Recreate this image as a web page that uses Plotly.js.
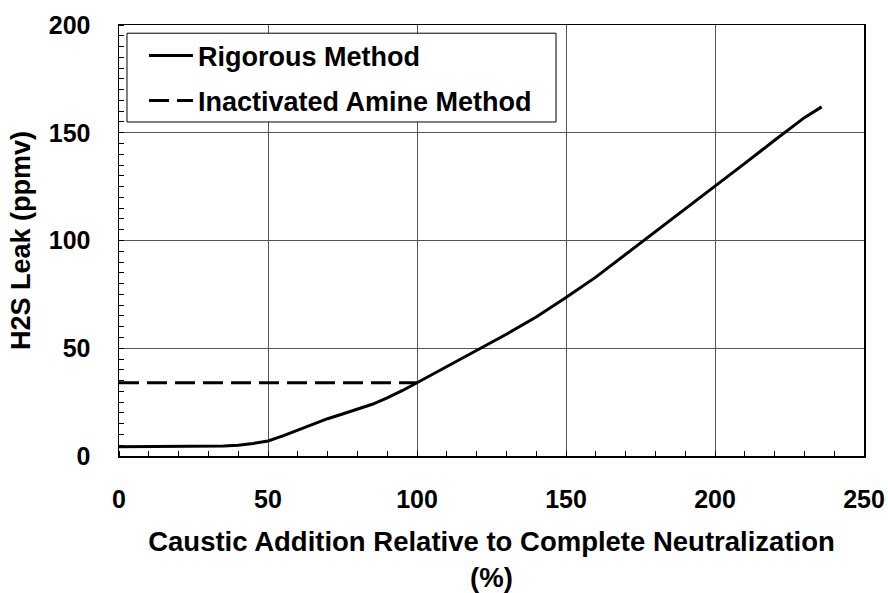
<!DOCTYPE html>
<html>
<head>
<meta charset="utf-8">
<script src="https://cdn.plot.ly/plotly-3.0.1.min.js"></script>
<style>html,body{margin:0;padding:0;background:#fff;}#chart{width:888px;height:593px;}</style>
</head>
<body>
<div id="chart"></div>
<script>
// Rigorous method curve
const rigX = [0, 10, 20, 27, 35, 40, 45, 50, 55, 60, 65, 70, 75, 80, 85, 90, 95, 100, 105, 110, 115, 120, 130, 140, 150, 160, 170, 180, 190, 200, 210, 220, 230, 235.8];
const rigY = [4.3, 4.3, 4.3, 4.3, 4.6, 5.0, 5.8, 7.0, 9.3, 12.0, 14.8, 17.3, 19.5, 21.6, 24.0, 27.0, 30.3, 34.0, 37.8, 41.6, 45.4, 49.2, 56.5, 64.5, 73.5, 83.0, 93.5, 104.0, 114.5, 125.0, 135.8, 146.5, 157.0, 162.0];
// Inactivated amine method
const inaX = [0, 100];
const inaY = [34, 34];
const xTickVals = [0, 50, 100, 150, 200, 250];
const yTickVals = [0, 50, 100, 150, 200];

const FONT = 'Liberation Sans, Arial, sans-serif';
const bold = (s) => ({family: FONT, size: s, color: '#000', weight: 'bold'});
const traces = [
  {x: rigX, y: rigY, mode: 'lines', name: 'Rigorous Method', legendgroup: 'a',
   line: {color: '#000', width: 3}},
  {x: inaX, y: inaY, mode: 'lines', name: 'Inactivated Amine Method', legendgroup: 'b',
   line: {color: '#000', width: 3, dash: '20px,8px'}}
];
const layout = {
  width: 888, height: 593,
  margin: {l: 119, r: 24, t: 25, b: 137},
  paper_bgcolor: '#fff', plot_bgcolor: '#fff',
  font: bold(25),
  showlegend: true,
  legend: {x: 0.0335, y: 0.985, xanchor: 'left', yanchor: 'top',
    borderwidth: 0, bgcolor: 'rgba(0,0,0,0)',
    font: bold(27), tracegroupgap: 7, itemwidth: 44},
  shapes: [
    {type: 'rect', xref: 'paper', yref: 'paper', x0: 0.0107, x1: 0.5866, y0: 0.775, y1: 0.981,
     line: {color: '#000', width: 1}, fillcolor: '#fff', layer: 'above'}
  ],
  xaxis: {range: [0, 250], tickvals: xTickVals, ticks: '', showgrid: true,
    gridcolor: '#555', gridwidth: 1, zeroline: false,
    showline: true, linecolor: '#000', linewidth: 1.5, mirror: true,
    ticklabelstandoff: 20,
    tickfont: bold(25),
    minor: {ticks: 'inside', dtick: 10, ticklen: 5, tickcolor: '#000', tickwidth: 1, showgrid: false},
    title: {text: 'Caustic Addition Relative to Complete Neutralization<br>(%)',
      font: bold(27.5), standoff: 24}},
  yaxis: {range: [0, 200], tickvals: yTickVals, ticks: '', showgrid: true,
    gridcolor: '#555', gridwidth: 1, zeroline: false,
    showline: true, linecolor: '#000', linewidth: 1.5, mirror: true,
    ticklabelstandoff: 22,
    tickfont: bold(25),
    minor: {ticks: 'inside', dtick: 5, ticklen: 5, tickcolor: '#000', tickwidth: 1, showgrid: false},
    title: {text: 'H2S Leak (ppmv)', font: bold(27), standoff: 10}}
};
Plotly.newPlot('chart', traces, layout, {displayModeBar: false, staticPlot: true});
</script>
</body>
</html>
